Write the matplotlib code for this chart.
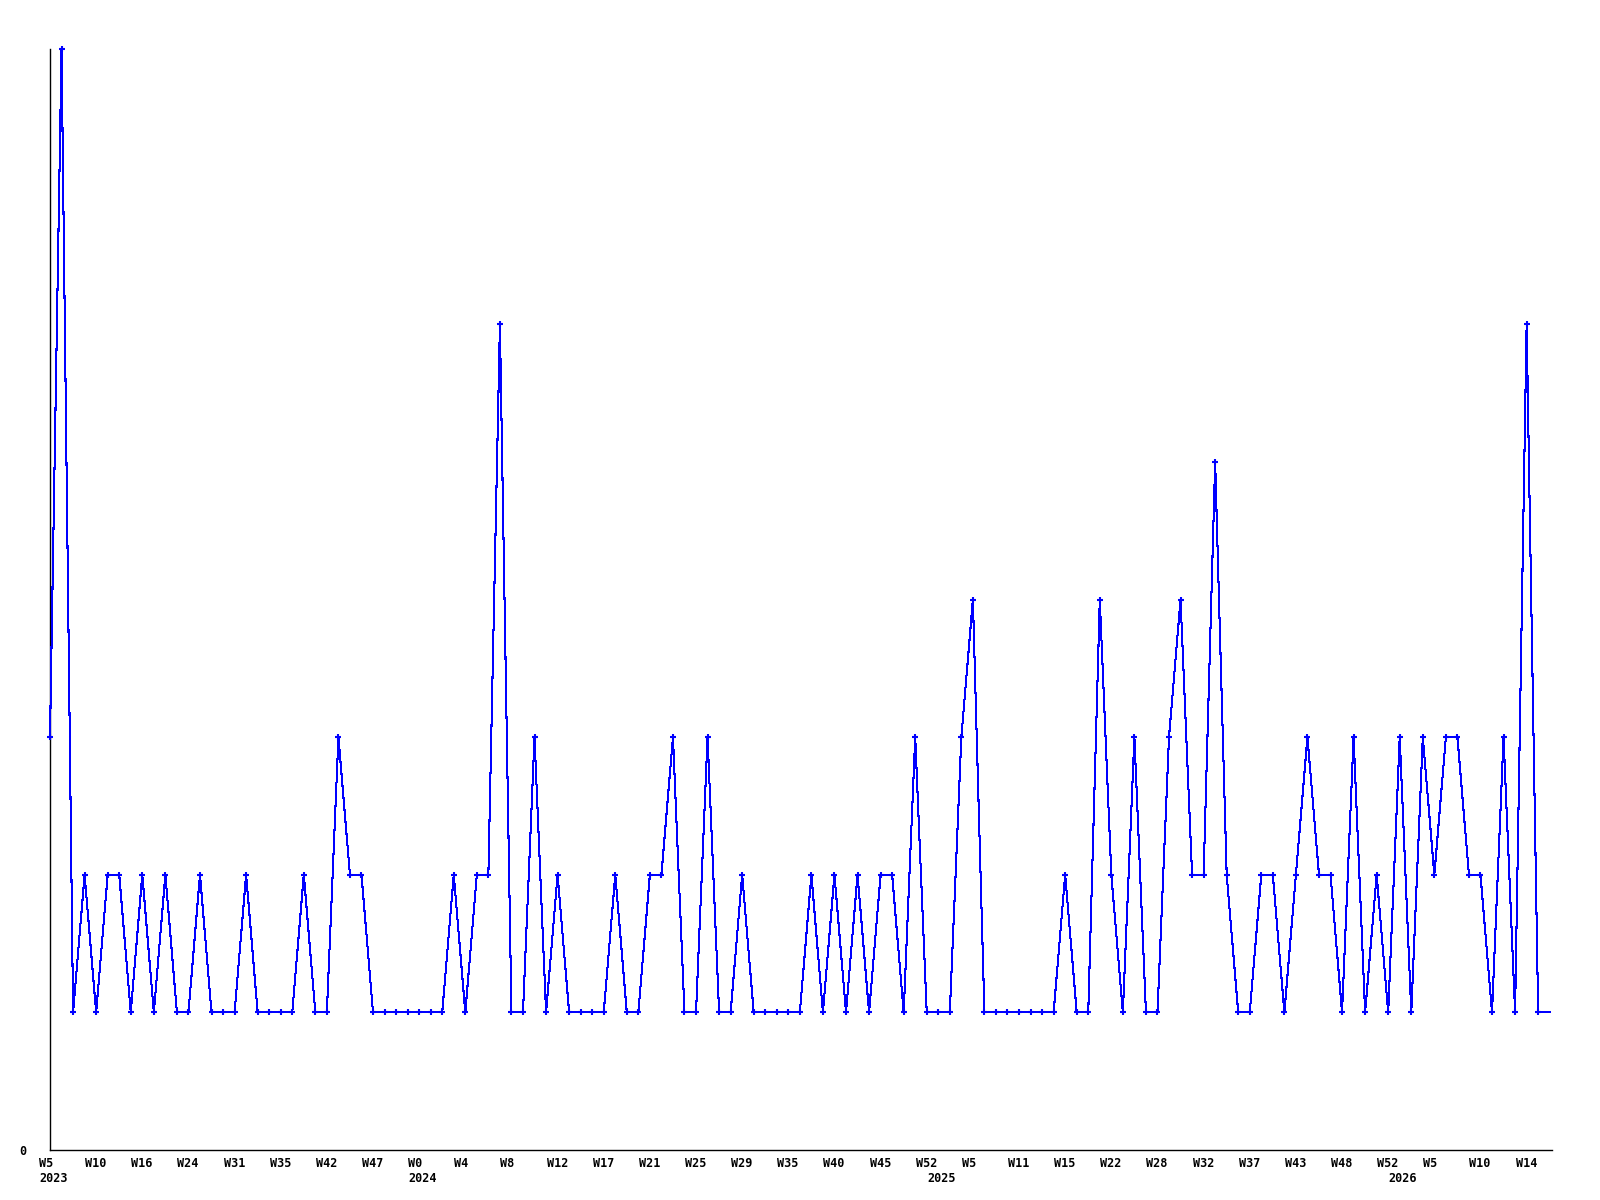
import matplotlib
matplotlib.use("Agg")
import matplotlib.pyplot as plt
import matplotlib.transforms as mtransforms

# --- data -------------------------------------------------------------
values = [
    3, 8, 1, 2, 1, 2, 2, 1, 2, 1, 2, 1, 1, 2, 1, 1, 1, 2, 1, 1,
    1, 1, 2, 1, 1, 3, 2, 2, 1, 1, 1, 1, 1, 1, 1, 2, 1, 2, 2, 6,
    1, 1, 3, 1, 2, 1, 1, 1, 1, 2, 1, 1, 2, 2, 3, 1, 1, 3, 1, 1,
    2, 1, 1, 1, 1, 1, 2, 1, 2, 1, 2, 1, 2, 2, 1, 3, 1, 1, 1, 3,
    4, 1, 1, 1, 1, 1, 1, 1, 2, 1, 1, 4, 2, 1, 3, 1, 1, 3, 4, 2,
    2, 5, 2, 1, 1, 2, 2, 1, 2, 3, 2, 2, 1, 3, 1, 2, 1, 3, 1, 3,
    2, 3, 3, 2, 2, 1, 3, 1, 6, 1, 1,
]
week_labels = [
    "W5", "W10", "W16", "W24", "W31", "W35", "W42", "W47",
    "W0", "W4", "W8", "W12", "W17", "W21", "W25", "W29",
    "W35", "W40", "W45", "W52", "W5", "W11", "W15", "W22",
    "W28", "W32", "W37", "W43", "W48", "W52", "W5", "W10", "W14",
]
label_step = 4
year_labels = ["2023", "2024", "2025", "2026"]
year_positions = [0, 32, 77, 117]
y_ticks = [0]
y_tick_labels = ["0"]

# --- figure -----------------------------------------------------------
fig = plt.figure(figsize=(16, 12), dpi=100)
ax = fig.add_axes([50 / 1600, 1 - 1150 / 1200, (1552 - 50) / 1600, (1150 - 49) / 1200])

x = list(range(len(values)))
ax.plot(x, values, color="#0000ff", linewidth=0.75, marker="+", markersize=4.5,
        markeredgewidth=1.5, markevery=list(range(len(values) - 1)),
        antialiased=False, clip_on=False, zorder=3)

ax.set_xlim(0, len(values) - 0.8)
ax.set_ylim(0, 8)

for s in ("top", "right"):
    ax.spines[s].set_visible(False)
for s in ("left", "bottom"):
    ax.spines[s].set_linewidth(1.0)
    ax.spines[s].set_color("black")

font = dict(family="DejaVu Sans Mono", weight="bold", size=8.5)

ax.xaxis.remove_overlapping_locs = False
ax.set_xticks(range(0, label_step * len(week_labels), label_step))
ax.set_xticklabels(week_labels, ha="left", **font)
ax.set_xticks(year_positions, minor=True)
ax.set_xticklabels(year_labels, minor=True, ha="left", **font)
ax.tick_params(axis="x", which="major", length=0, pad=5)
ax.tick_params(axis="x", which="minor", length=0, pad=15.5)

offset = mtransforms.ScaledTranslation(-11 / 100, 0, fig.dpi_scale_trans)
for lab in ax.get_xticklabels(which="both"):
    lab.set_transform(lab.get_transform() + offset)

ax.set_yticks(y_ticks)
ax.set_yticklabels(y_tick_labels, **font)
ax.tick_params(axis="y", length=0, pad=17)

fig.savefig("out.png", dpi=100)
